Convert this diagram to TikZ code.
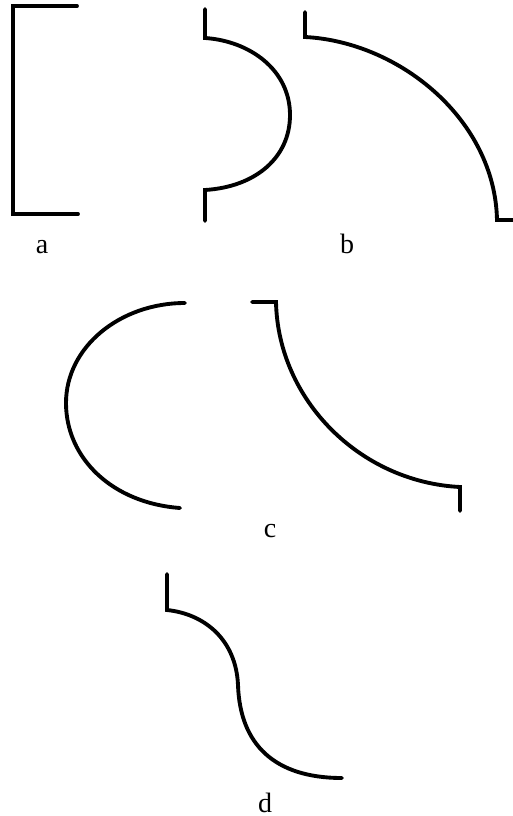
\documentclass[tikz,border=0pt]{standalone}
\usepackage{fontspec}
\setmainfont{Liberation Serif}

\tikzset{
  profile/.style={line width=2.9pt, black, line join=miter, line cap=round},
  partlabel/.style={font=\fontsize{21}{24}\selectfont, inner sep=0pt, anchor=base, black}
}

\begin{document}
\begin{tikzpicture}[x=0.75pt,y=-0.75pt]
  \useasboundingbox (0,0) rectangle (513,816);

  % panel a
  \draw[profile] (77,6) -- (13,6) -- (13,214) -- (78,214);
  \node[partlabel] (laba) at (42,254) {a};

  % panel b, round groove
  \draw[profile]
    (205,9) -- (205,38) .. controls (250,41) and (290,70) .. (290,115)
    .. controls (290,158) and (255,187) .. (205,190) -- (205,221);
  % panel b, quarter groove
  \draw[profile]
    (305,12) -- (305,37) .. controls (400,42) and (495,120) .. (497,220) -- (513,220);
  \node[partlabel] (labb) at (347,254) {b};

  % panel c
  \draw[profile]
    (185,303) .. controls (120,303) and (66,347) .. (66,403)
    .. controls (66,458) and (112,503) .. (180,508);
  \draw[profile]
    (252,302) -- (276,302) .. controls (278,400) and (360,482) .. (460,487) -- (460,511);
  \node[partlabel] (labc) at (270,537) {c};

  % panel d
  \draw[profile]
    (167,574) -- (167,610) .. controls (205,614) and (236,640) .. (238,685)
    .. controls (240,745) and (275,778) .. (342,778);
  \node[partlabel] (labd) at (265,812) {d};
\end{tikzpicture}
\end{document}
